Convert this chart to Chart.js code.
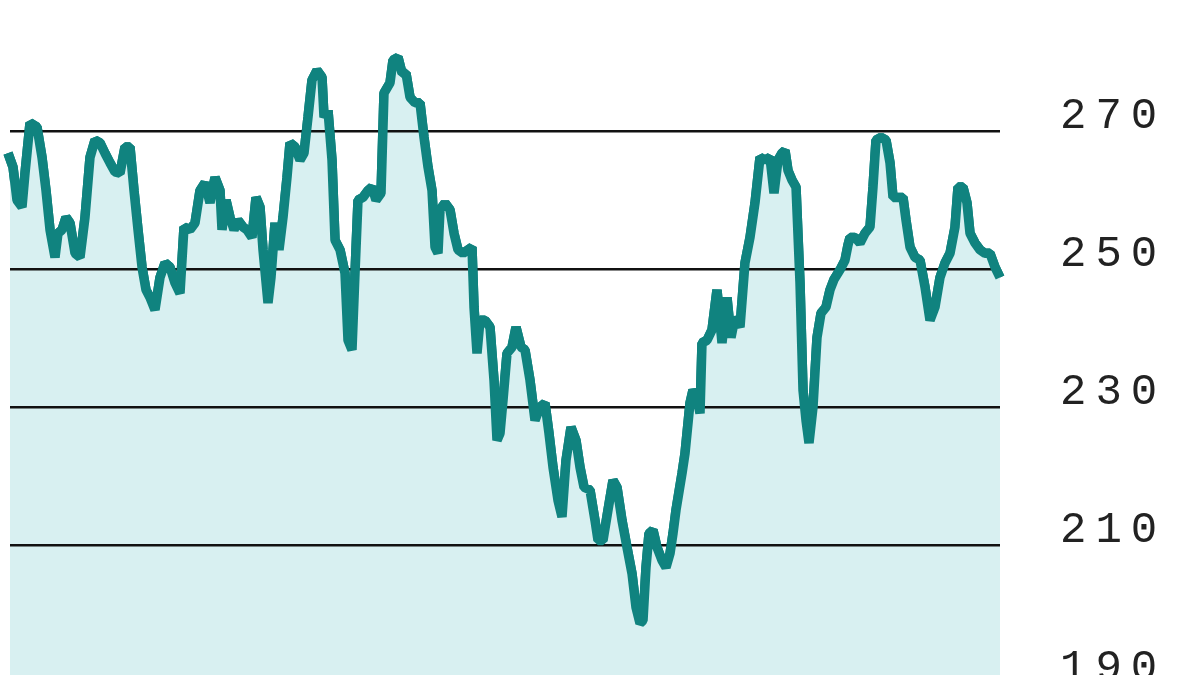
<!DOCTYPE html>
<html>
  <head>
    <meta charset="UTF-8"/>
    <title>Price chart</title>
    <script src="https://cdn.jsdelivr.net/npm/chart.js@4.4.1/dist/chart.umd.min.js"></script>
    <style>
     html, body {
       margin: 0;
       padding: 0;
       background: #ffffff;
     }
     #wrap {
       width: 1200px;
       height: 675px;
     }
    </style>
  </head>
  <body>
    <div id="wrap">
      <canvas id="chart-price"></canvas>
    </div>

    <script>
     // trading sessions (horizontal position) and closing price
     var days = [
         0, 3, 8, 13, 17, 22, 25, 30, 37, 42, 46, 50, 55, 58, 62, 66, 70, 75, 80, 85,
         90, 95, 100, 105, 110, 115, 120, 125, 130, 134, 138, 142, 146, 150, 155, 160, 165, 170, 175, 180,
         184, 190, 195, 200, 205, 210, 215, 220, 222, 226, 230, 234, 238, 243, 247, 252, 256, 260, 263, 268,
         271, 275, 279, 283, 287, 290, 295, 300, 304, 308, 312, 317, 322, 324, 328, 332, 335, 340, 345, 348,
         352, 355, 358, 363, 368, 372, 376, 381, 384, 390, 393, 398, 402, 406, 410, 415, 420, 424, 428, 432,
         435, 438, 440, 445, 450, 454, 458, 463, 468, 472, 474, 477, 480, 485, 490, 494, 497, 500, 503, 507,
         512, 516, 521, 525, 530, 535, 540, 545, 549, 553, 558, 562, 566, 571, 576, 580, 584, 590, 595, 598,
         603, 608, 613, 617, 622, 627, 632, 636, 640, 643, 646, 649, 653, 657, 662, 666, 670, 673, 676, 682,
         685, 690, 693, 697, 700, 702, 707, 712, 717, 722, 727, 731, 735, 740, 745, 750, 755, 760, 765, 770,
         774, 778, 782, 785, 788, 792, 796, 800, 803, 806, 809, 813, 817, 821, 826, 830, 834, 840, 845, 848,
         850, 855, 860, 865, 870, 873, 876, 881, 886, 890, 893, 898, 903, 906, 910, 915, 920, 925, 930, 935,
         940, 945, 950, 955, 958, 963, 967, 970, 975, 980, 985, 990, 995, 1000
     ];

     var prices = [
         273.5, 267.7, 266.8, 264.8, 260.0, 259.0, 263.9, 271.2, 270.6, 266.2, 261.4, 255.7, 251.7, 255.2, 255.7, 257.5, 256.7, 252.3, 251.7, 257.5,
         266.2, 268.7, 268.3, 266.8, 265.4, 264.1, 263.9, 267.7, 267.7, 261.4, 255.7, 250.3, 247.0, 245.9, 244.1, 248.8, 250.9, 250.3, 248.0, 246.5,
         256.1, 255.7, 256.7, 261.4, 262.5, 259.6, 263.3, 261.4, 255.7, 260.0, 257.5, 255.7, 257.1, 256.1, 255.7, 254.6, 260.4, 259.0, 252.8, 245.1,
         248.8, 256.7, 252.8, 257.5, 263.3, 268.3, 267.7, 265.8, 266.8, 272.0, 277.4, 278.8, 277.8, 272.0, 273.0, 265.8, 254.2, 252.8, 249.4, 239.7,
         238.3, 249.4, 260.0, 260.4, 261.4, 261.9, 260.0, 261.0, 275.5, 277.0, 280.3, 280.7, 278.4, 278.4, 274.9, 274.1, 274.1, 269.1, 264.8, 261.4,
         253.2, 252.3, 258.6, 259.6, 258.6, 255.2, 252.8, 252.3, 252.8, 253.2, 244.5, 237.8, 242.6, 242.6, 241.6, 233.9, 225.2, 226.2, 231.0, 237.8,
         238.7, 241.6, 238.7, 238.3, 233.9, 228.1, 230.0, 230.6, 226.2, 221.3, 216.5, 214.1, 222.3, 227.1, 225.2, 221.3, 218.4, 218.0, 213.6, 210.7,
         210.7, 215.1, 219.4, 218.4, 213.6, 209.7, 205.9, 201.0, 198.7, 199.1, 206.8, 211.7, 212.2, 209.7, 207.8, 206.8, 208.8, 211.7, 215.1, 220.4,
         223.3, 230.6, 232.5, 231.4, 229.1, 239.3, 239.7, 241.2, 247.0, 239.3, 245.9, 240.1, 243.0, 241.6, 250.9, 254.6, 259.6, 266.2, 265.8, 266.2,
         261.0, 265.8, 266.8, 267.2, 264.3, 262.9, 261.9, 248.0, 232.5, 228.1, 224.8, 230.0, 240.1, 243.6, 244.5, 247.0, 248.5, 249.9, 251.3, 253.5,
         254.6, 254.6, 253.8, 255.2, 256.1, 261.9, 268.7, 269.1, 268.7, 265.4, 260.4, 260.4, 260.4, 257.1, 253.2, 251.7, 251.3, 247.4, 242.6, 244.5,
         248.8, 250.9, 252.3, 256.1, 261.9, 261.9, 259.6, 255.2, 253.8, 252.8, 252.3, 252.3, 250.3, 248.8
     ];

     var tickValues = [190, 210, 230, 250, 270, 290];

     // widen the axis digits like the original artwork
     var spacingPlugin = {
         id: "spacing",
         beforeDraw: function(chart){
             chart.ctx.letterSpacing = "9px";
         },
         // grid sits over the area fill, the price line goes back on top
         afterDraw: function(chart){
             chart.ctx.save();
             chart.ctx.letterSpacing = "0px";
             chart.getDatasetMeta(1).controller.draw();
             chart.ctx.restore();
         }
     };

     var points = days.map((d, i) => ({x: d, y: prices[i]}));

     var chart = new Chart("chart-price", {
         type: "line",
         data: {
             datasets: [{
                 data: points,
                 borderWidth: 0,
                 backgroundColor: "#d8f0f1",
                 pointRadius: 0,
                 tension: 0,
                 fill: "start",
                 clip: false
             }, {
                 data: points,
                 borderColor: "#10837f",
                 borderWidth: 9.5,
                 borderJoinStyle: "bevel",
                 pointRadius: 0,
                 tension: 0,
                 fill: false,
                 clip: false
             }]
         },
         options: {
             responsive: true,
             maintainAspectRatio: false,
             animation: false,
             layout: {
                 padding: {left: 10, right: 0, top: 0, bottom: 0}
             },
             plugins: {
                 legend: {display: false},
                 tooltip: {enabled: false}
             },
             scales: {
                 x: {
                     type: "linear",
                     min: 10,
                     max: 1000,
                     display: false
                 },
                 y: {
                     position: "right",
                     min: 191.2,
                     max: 289,
                     afterBuildTicks: function(scale){
                         scale.ticks = tickValues.map(v => ({value: v}));
                     },
                     afterFit: function(scale){
                         scale.width = 200;
                         scale.paddingTop = 0;
                         scale.paddingBottom = 0;
                     },
                     border: {display: false},
                     grid: {
                         z: 1,
                         color: "#111111",
                         lineWidth: 2.5,
                         drawTicks: false
                     },
                     ticks: {
                         autoSkip: false,
                         padding: 60,
                         labelOffset: -15,
                         color: "#222222",
                         font: {family: "Liberation Mono", size: 44}
                     }
                 }
             }
         },
         plugins: [spacingPlugin]
     });
    </script>
  </body>
</html>
